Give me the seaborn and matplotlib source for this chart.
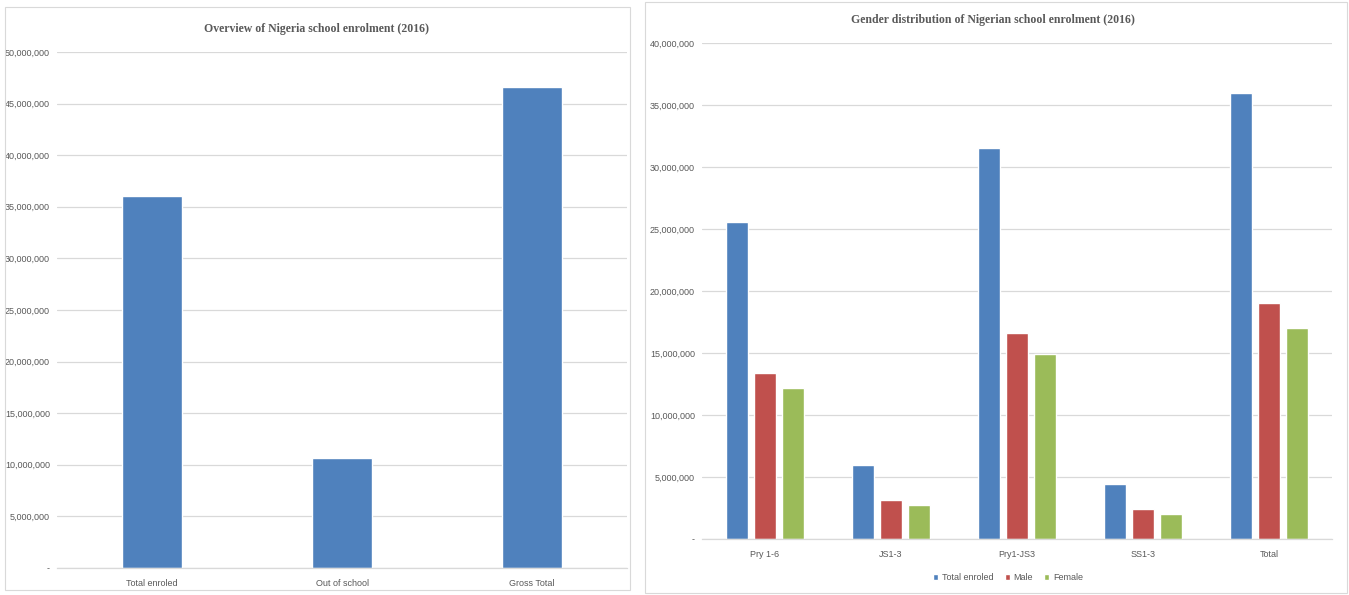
import matplotlib
matplotlib.use("Agg")
import matplotlib.pyplot as plt
import matplotlib.ticker as mticker
from matplotlib.patches import Rectangle
import seaborn as sns
import pandas as pd

# ---- data ----
overview_categories = ["Total enroled", "Out of school", "Gross Total"]
overview_values = [36_000_000, 10_640_000, 46_640_000]

levels = ["Pry 1-6", "JS1-3", "Pry1-JS3", "SS1-3", "Total"]
total_enroled = [25_580_000, 5_970_000, 31_550_000, 4_460_000, 36_000_000]
male = [13_400_000, 3_150_000, 16_600_000, 2_400_000, 19_000_000]
female = [12_200_000, 2_770_000, 14_950_000, 2_040_000, 16_980_000]
series_names = ["Total enroled", "Male", "Female"]

left_title = "Overview of Nigeria school enrolment (2016)"
right_title = "Gender distribution of Nigerian school enrolment (2016)"

# ---- style ----
sns.set_theme(style="white")
plt.rcParams["font.family"] = ["Liberation Sans Narrow", "Liberation Sans", "DejaVu Sans"]

BLUE, RED, GREEN = "#4F81BD", "#C0504D", "#9BBB59"
GRID = "#D9D9D9"
TXT = "#595959"
W, H = 1349, 595

fig = plt.figure(figsize=(W / 100, H / 100), dpi=100)
fig.patch.set_facecolor("white")

# panel frames
fig.patches.append(Rectangle((5 / W, 5 / H), 625 / W, 583 / H, transform=fig.transFigure,
                             fill=False, edgecolor=GRID, lw=0.8))
fig.patches.append(Rectangle((645 / W, 2 / H), 702 / W, 591 / H, transform=fig.transFigure,
                             fill=False, edgecolor=GRID, lw=0.8))

def fmt(v, pos):
    return "-" if abs(v) < 1 else f"{int(round(v)):,}"

def style_axis(ax, ymax, step):
    ax.set_ylim(0, ymax)
    ax.yaxis.set_major_locator(mticker.MultipleLocator(step))
    ax.yaxis.set_major_formatter(mticker.FuncFormatter(fmt))
    ax.grid(axis="y", color=GRID, lw=0.9)
    ax.set_axisbelow(True)
    for s in ["top", "right", "left"]:
        ax.spines[s].set_visible(False)
    ax.spines["bottom"].set_color(GRID)
    ax.spines["bottom"].set_linewidth(0.9)
    ax.tick_params(axis="both", length=0, labelsize=6.5, colors=TXT, pad=5)
    ax.set_xlabel("")
    ax.set_ylabel("")

# ---- left chart ----
ax1 = fig.add_axes([57 / W, (H - 568) / H, 570 / W, 516 / H])
sns.barplot(x=overview_categories, y=overview_values, color=BLUE, saturation=1,
            width=0.316, ax=ax1)
style_axis(ax1, 50_000_000, 5_000_000)
ax1.tick_params(axis="x", pad=8)
fig.text(317 / W, 1 - 29 / H, left_title, ha="center", va="center",
         family=["Liberation Serif", "DejaVu Serif"], fontweight="bold",
         fontsize=8.5, color=TXT)

# ---- right chart ----
df = pd.DataFrame({
    "Level": levels * 3,
    "Series": [series_names[0]] * 5 + [series_names[1]] * 5 + [series_names[2]] * 5,
    "Value": total_enroled + male + female,
})
ax2 = fig.add_axes([702 / W, (H - 539) / H, 630 / W, 496 / H])
sns.barplot(data=df, x="Level", y="Value", hue="Series", order=levels,
            hue_order=series_names, palette=[BLUE, RED, GREEN], saturation=1,
            width=0.667, gap=0.2, ax=ax2)
style_axis(ax2, 40_000_000, 5_000_000)
ax2.tick_params(axis="x", pad=8)
handles, labels = ax2.get_legend_handles_labels()
ax2.get_legend().remove()
fig.legend(handles, labels, loc="center", bbox_to_anchor=(1008 / W, 1 - 578 / H),
           ncol=3, frameon=False, fontsize=6.5, labelcolor=TXT,
           handlelength=0.6, handleheight=0.6, handletextpad=0.4, columnspacing=1.2)
fig.text(993 / W, 1 - 20 / H, right_title, ha="center", va="center",
         family=["Liberation Serif", "DejaVu Serif"], fontweight="bold",
         fontsize=8.5, color=TXT)

fig.savefig("out.png", dpi=100, facecolor="white")
